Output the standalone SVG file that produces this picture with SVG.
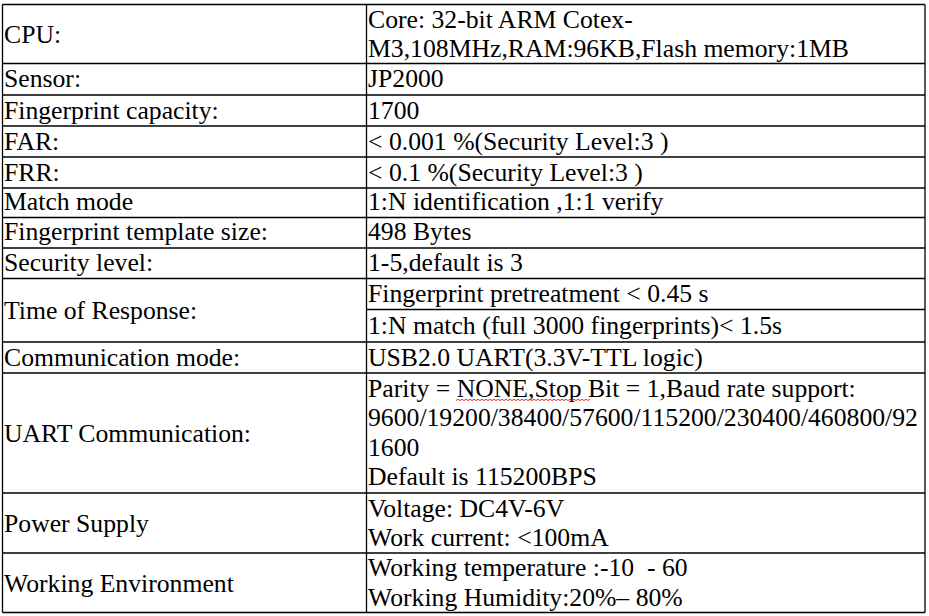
<svg xmlns="http://www.w3.org/2000/svg" width="929" height="616" viewBox="0 0 929 616">
<style>
  text { font-family: "Liberation Serif", "Times New Roman", serif; font-size: 25.7px; fill: #000; }
  .grid line { stroke: #000; stroke-width: 1.3; }
  .squiggle { fill: none; stroke: #e02020; stroke-width: 0.9; }
</style>
<rect x="0" y="0" width="929" height="616" fill="#fff"/>
<g id="grid" class="grid">
  <line x1="2.5" y1="4.5" x2="925" y2="4.5"/>
  <line x1="2.5" y1="63.5" x2="925" y2="63.5"/>
  <line x1="2.5" y1="95" x2="925" y2="95"/>
  <line x1="2.5" y1="126" x2="925" y2="126"/>
  <line x1="2.5" y1="157" x2="925" y2="157"/>
  <line x1="2.5" y1="188" x2="925" y2="188"/>
  <line x1="2.5" y1="217.5" x2="925" y2="217.5"/>
  <line x1="2.5" y1="248" x2="925" y2="248"/>
  <line x1="2.5" y1="278.5" x2="925" y2="278.5"/>
  <line x1="366.5" y1="309.5" x2="925" y2="309.5"/>
  <line x1="2.5" y1="342" x2="925" y2="342"/>
  <line x1="2.5" y1="373" x2="925" y2="373"/>
  <line x1="2.5" y1="493" x2="925" y2="493"/>
  <line x1="2.5" y1="553" x2="925" y2="553"/>
  <line x1="2.5" y1="612.5" x2="925" y2="612.5"/>
  <line x1="2.5" y1="4.5" x2="2.5" y2="612.5"/>
  <line x1="366.5" y1="4.5" x2="366.5" y2="612.5"/>
  <line x1="925" y1="4.5" x2="925" y2="612.5"/>
</g>
<g id="row-cpu">
  <text x="4" y="42.7">CPU:</text>
  <text x="368" y="27.5">Core: 32-bit ARM Cotex-</text>
  <text x="368" y="56.5">M3,108MHz,RAM:96KB,Flash memory:1MB</text>
</g>
<g id="row-sensor">
  <text x="4" y="87">Sensor:</text>
  <text x="368" y="87">JP2000</text>
</g>
<g id="row-capacity">
  <text x="4" y="118.5">Fingerprint capacity:</text>
  <text x="368" y="118.5">1700</text>
</g>
<g id="row-far">
  <text x="4" y="149.5">FAR:</text>
  <text x="368" y="149.5">&lt; 0.001 %(Security Level:3 )</text>
</g>
<g id="row-frr">
  <text x="4" y="180.5">FRR:</text>
  <text x="368" y="180.5">&lt; 0.1 %(Security Level:3 )</text>
</g>
<g id="row-match">
  <text x="4" y="209.5">Match mode</text>
  <text x="368" y="209.5">1:N identification ,1:1 verify</text>
</g>
<g id="row-template">
  <text x="4" y="240">Fingerprint template size:</text>
  <text x="368" y="240">498 Bytes</text>
</g>
<g id="row-security">
  <text x="4" y="270.5">Security level:</text>
  <text x="368" y="270.5">1-5,default is 3</text>
</g>
<g id="row-response">
  <text x="4" y="318.5">Time of Response:</text>
  <text x="368" y="301.7">Fingerprint pretreatment &lt; 0.45 s</text>
  <text x="368" y="334">1:N match (full 3000 fingerprints)&lt; 1.5s</text>
</g>
<g id="row-comm">
  <text x="4" y="365.5">Communication mode:</text>
  <text x="368" y="365.5">USB2.0 UART(3.3V-TTL logic)</text>
</g>
<g id="row-uart">
  <text x="4" y="441.7">UART Communication:</text>
  <text x="368" y="396.7">Parity = NONE,Stop Bit = 1,Baud rate support:</text>
  <text x="368" y="426.3">9600/19200/38400/57600/115200/230400/460800/92</text>
  <text x="368" y="455.8">1600</text>
  <text x="368" y="485.3">Default is 115200BPS</text>
  <path class="squiggle" d="M456,400.5 l2,-1.2 l2,1.2 l2,-1.2 l2,1.2 l2,-1.2 l2,1.2 l2,-1.2 l2,1.2 l2,-1.2 l2,1.2 l2,-1.2 l2,1.2 l2,-1.2 l2,1.2 l2,-1.2 l2,1.2 l2,-1.2 l2,1.2 l2,-1.2 l2,1.2 l2,-1.2 l2,1.2 l2,-1.2 l2,1.2 l2,-1.2 l2,1.2 l2,-1.2 l2,1.2 l2,-1.2 l2,1.2 l2,-1.2 l2,1.2 l2,-1.2 l2,1.2 l2,-1.2 l2,1.2 l2,-1.2 l2,1.2 l2,-1.2 l2,1.2 l2,-1.2 l2,1.2 l2,-1.2 l2,1.2 l2,-1.2 l2,1.2 l2,-1.2 l2,1.2 l2,-1.2 l2,1.2 l2,-1.2 l2,1.2 l2,-1.2 l2,1.2 l2,-1.2 l2,1.2 l2,-1.2 l2,1.2 l2,-1.2 l2,1.2 l2,-1.2 l2,1.2 l2,-1.2 l2,1.2 l2,-1.2 l2,1.2 l2,-1.2"/>
</g>
<g id="row-power">
  <text x="4" y="531.7">Power Supply</text>
  <text x="368" y="516.7">Voltage: DC4V-6V</text>
  <text x="368" y="546.3">Work current: &lt;100mA</text>
</g>
<g id="row-env">
  <text x="4" y="591.7">Working Environment</text>
  <text x="368" y="576" xml:space="preserve">Working temperature :-10  - 60</text>
  <text x="368" y="605.5">Working Humidity:20%– 80%</text>
</g>
</svg>
